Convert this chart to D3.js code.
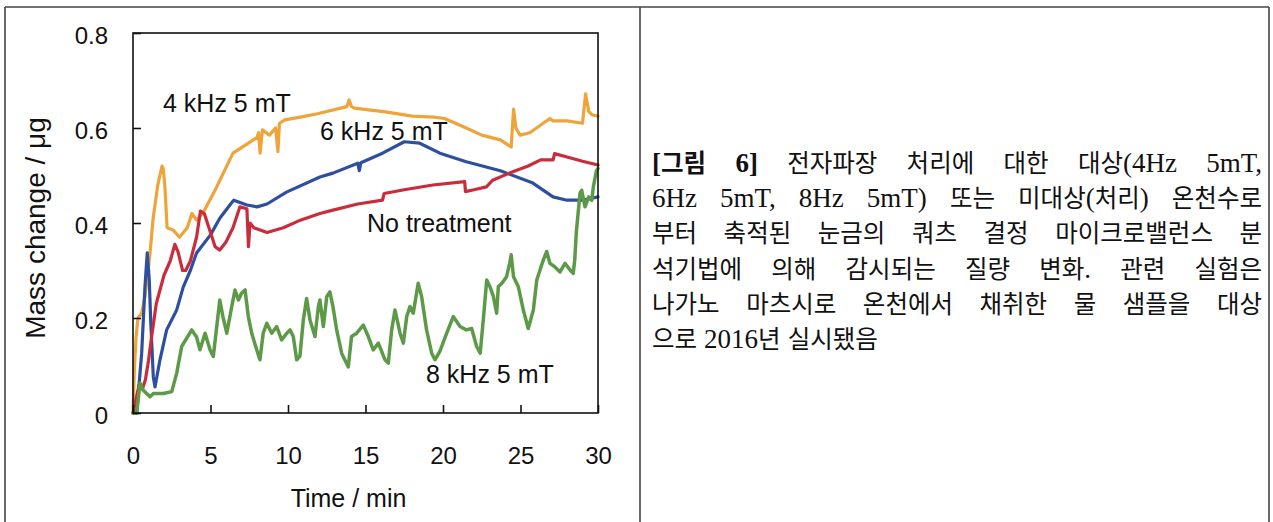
<!DOCTYPE html>
<html><head><meta charset="utf-8">
<script src="https://cdn.jsdelivr.net/npm/d3@7"></script>
<style>html,body{margin:0;padding:0;background:#fff;} svg{display:block;}</style>
</head><body>
<svg id="c" width="1273" height="522"></svg>
<script>
// ---------- data ----------
const xTicks = [0, 5, 10, 15, 20, 25, 30];
const yTicks = [0, 0.2, 0.4, 0.6, 0.8];
const yTickLabels = ["0", "0.2", "0.4", "0.6", "0.8"];
const xTitle = "Time / min";
const yTitle = "Mass change / μg";
const seriesNames = ["4 kHz 5 mT", "6 kHz 5 mT", "No treatment", "8 kHz 5 mT"];

// [time (min), mass change (µg)]
const series4k = [[0,0],[0.1,0.1],[0.2,0.16],[0.32,0.2],[0.56,0.21],[0.77,0.245],[0.97,0.3],[1.1,0.337],[1.3,0.41],[1.6,0.48],[1.87,0.52],[1.95,0.515],[2.06,0.476],[2.2,0.39],[2.6,0.385],[3.0,0.37],[3.5,0.39],[3.8,0.42],[4.1,0.406],[4.5,0.42],[5.4,0.476],[6.45,0.547],[7.3,0.565],[8.0,0.58],[8.1,0.59],[8.2,0.547],[8.35,0.596],[8.8,0.585],[9.2,0.6],[9.35,0.55],[9.45,0.61],[9.8,0.617],[10.8,0.623],[11.9,0.63],[12.9,0.638],[13.8,0.645],[13.94,0.659],[14.1,0.645],[14.3,0.642],[15.2,0.638],[16.3,0.634],[18.0,0.625],[19.4,0.623],[20.1,0.62],[21.5,0.6],[22.5,0.585],[23.7,0.575],[24.4,0.56],[24.55,0.64],[24.7,0.6],[24.97,0.585],[25.6,0.59],[26.9,0.62],[27.1,0.615],[28.0,0.615],[29.0,0.61],[29.2,0.672],[29.4,0.635],[29.6,0.628],[30,0.625]];
const series6k = [[0.24,0],[0.56,0.126],[0.77,0.265],[0.92,0.337],[1.05,0.28],[1.14,0.196],[1.31,0.076],[1.42,0.055],[1.74,0.112],[2.17,0.175],[2.82,0.217],[3.24,0.265],[3.7,0.3],[4.1,0.337],[5.0,0.375],[5.6,0.41],[6.3,0.44],[6.5,0.448],[7.35,0.438],[8.0,0.434],[8.65,0.44],[9.9,0.465],[12.06,0.497],[12.9,0.505],[14.5,0.526],[14.6,0.51],[14.7,0.527],[16.1,0.547],[17.5,0.571],[18.5,0.568],[19.8,0.547],[21.5,0.529],[23.7,0.51],[25.8,0.484],[27.1,0.455],[28,0.448],[29,0.448],[30,0.455]];
const seriesNone = [[0,0],[0.2,0.03],[0.4,0.06],[0.6,0.05],[0.8,0.07],[1.0,0.11],[1.2,0.16],[1.5,0.23],[2.0,0.29],[2.4,0.32],[2.7,0.355],[2.9,0.34],[3.2,0.3],[3.4,0.3],[3.7,0.32],[4.1,0.37],[4.35,0.425],[4.6,0.42],[5.0,0.38],[5.3,0.35],[5.6,0.343],[6.0,0.36],[6.45,0.39],[6.9,0.434],[7.35,0.43],[7.45,0.35],[7.55,0.4],[7.8,0.39],[8.65,0.38],[9.7,0.39],[10.8,0.406],[12.06,0.42],[12.9,0.427],[14.5,0.44],[16.1,0.448],[16.2,0.462],[17.5,0.47],[19.35,0.48],[21.4,0.487],[21.45,0.466],[22.0,0.47],[22.8,0.476],[23.2,0.49],[24.5,0.508],[25.5,0.52],[26.3,0.533],[27.1,0.533],[27.2,0.546],[28,0.539],[29,0.53],[30,0.522]];
const series8k = [[0,0],[0.24,0],[0.45,0.063],[0.66,0.048],[0.88,0.041],[1.1,0.034],[1.31,0.041],[1.96,0.041],[2.5,0.045],[2.82,0.084],[3.14,0.14],[3.79,0.175],[4.1,0.16],[4.32,0.133],[4.65,0.168],[4.97,0.133],[5.18,0.119],[5.6,0.238],[5.8,0.203],[6.05,0.168],[6.37,0.224],[6.58,0.259],[6.8,0.238],[7.0,0.252],[7.23,0.259],[7.44,0.203],[7.66,0.168],[7.98,0.133],[8.19,0.112],[8.4,0.168],[8.63,0.189],[8.95,0.168],[9.27,0.182],[9.59,0.154],[9.92,0.168],[10.13,0.175],[10.34,0.161],[10.56,0.112],[10.77,0.12],[10.99,0.196],[11.2,0.241],[11.42,0.196],[11.74,0.161],[11.96,0.224],[12.06,0.238],[12.28,0.182],[12.5,0.245],[12.7,0.255],[12.9,0.224],[13.14,0.175],[13.46,0.126],[13.89,0.097],[14.1,0.161],[14.43,0.168],[14.86,0.185],[15.18,0.161],[15.5,0.133],[15.83,0.147],[16.26,0.112],[16.47,0.105],[16.69,0.175],[16.9,0.217],[17.23,0.168],[17.44,0.147],[17.66,0.203],[17.87,0.224],[18.08,0.21],[18.4,0.273],[18.62,0.245],[18.94,0.175],[19.27,0.126],[19.48,0.112],[19.8,0.13],[20.24,0.168],[20.66,0.203],[21.1,0.182],[21.5,0.175],[21.85,0.178],[22.17,0.14],[22.4,0.126],[22.6,0.196],[22.82,0.28],[23.03,0.266],[23.25,0.245],[23.46,0.21],[23.57,0.266],[23.8,0.273],[24.1,0.287],[24.3,0.315],[24.4,0.333],[24.55,0.287],[24.86,0.266],[25.18,0.217],[25.5,0.178],[25.83,0.217],[26.05,0.28],[26.47,0.322],[26.69,0.34],[26.9,0.315],[27.2,0.308],[27.55,0.297],[27.87,0.315],[28.2,0.301],[28.4,0.294],[28.5,0.322],[28.6,0.38],[28.84,0.463],[28.95,0.469],[29.16,0.434],[29.4,0.455],[29.6,0.448],[29.7,0.476],[29.9,0.51],[30,0.515]];

const captionLines = [
  "[그림 6] 전자파장 처리에 대한 대상(4Hz 5mT,",
  "6Hz 5mT, 8Hz 5mT) 또는 미대상(처리) 온천수로",
  "부터 축적된 눈금의 쿼츠 결정 마이크로밸런스 분",
  "석기법에 의해 감시되는 질량 변화. 관련 실험은",
  "나가노 마츠시로 온천에서 채취한 물 샘플을 대상",
  "으로 2016년 실시됐음"
];

// ---------- styles ----------
const seriesStyle = [
  {data: series4k, color: "#EFA43A", w: 3.2},
  {data: series6k, color: "#2E4F9F", w: 3.2},
  {data: seriesNone, color: "#C92C3B", w: 3.2},
  {data: series8k, color: "#5C9A48", w: 3.5}
];
const drawOrder = [0, 1, 2, 3];
const labelPos = [[163,112],[320,140],[367,232],[426,383]];

const svg = d3.select("#c");
const font = "'Liberation Sans', Arial, sans-serif";

// table borders
const border = svg.append("g").attr("stroke", "#444").attr("stroke-width", 1.6).attr("fill", "none");
border.append("line").attr("x1", 5).attr("x2", 1269).attr("y1", 7).attr("y2", 7);
border.append("line").attr("x1", 5).attr("x2", 5).attr("y1", 7).attr("y2", 522);
border.append("line").attr("x1", 640).attr("x2", 640).attr("y1", 7).attr("y2", 522);
border.append("line").attr("x1", 1269).attr("x2", 1269).attr("y1", 7).attr("y2", 522);

// scales
const x = d3.scaleLinear().domain([0, 30]).range([133, 598]);
const y = d3.scaleLinear().domain([0, 0.8]).range([413, 33]);

// series
const line = d3.line().x(d => x(d[0])).y(d => y(d[1])).curve(d3.curveLinear);
const plot = svg.append("g");
drawOrder.forEach(i => {
  plot.append("path").datum(seriesStyle[i].data)
    .attr("d", line).attr("fill", "none")
    .attr("stroke", seriesStyle[i].color).attr("stroke-width", seriesStyle[i].w)
    .attr("stroke-linejoin", "round").attr("stroke-linecap", "round");
});

// frame
svg.append("rect").attr("x", x(0)).attr("y", y(0.8))
  .attr("width", x(30) - x(0)).attr("height", y(0) - y(0.8))
  .attr("fill", "none").attr("stroke", "#111").attr("stroke-width", 1.6);

// axes
const xAxis = svg.append("g").attr("transform", `translate(0,${y(0)})`)
  .call(d3.axisBottom(x).tickValues(xTicks).tickFormat(d3.format("d")).tickSizeInner(-8).tickSizeOuter(0).tickPadding(34));
const yAxis = svg.append("g").attr("transform", `translate(${x(0)},0)`)
  .call(d3.axisLeft(y).tickValues(yTicks).tickFormat((d, i) => yTickLabels[i]).tickSizeInner(-8).tickSizeOuter(0).tickPadding(25));
[xAxis, yAxis].forEach(a => {
  a.select(".domain").remove();
  a.selectAll(".tick line").attr("stroke", "#111").attr("stroke-width", 1.6);
  a.selectAll("text").attr("font-family", font).attr("font-size", 24).attr("fill", "#111");
});
yAxis.selectAll("text").attr("dy", "0.42em");

// titles
svg.append("text").attr("x", 348.5).attr("y", 507).attr("text-anchor", "middle")
  .attr("font-family", font).attr("font-size", 25).attr("fill", "#111").text(xTitle);
svg.append("text").attr("transform", "translate(45,228) rotate(-90)").attr("text-anchor", "middle")
  .attr("font-family", font).attr("font-size", 28).attr("fill", "#111").text(yTitle);

// series labels
seriesNames.forEach((n, i) => {
  svg.append("text").attr("x", labelPos[i][0]).attr("y", labelPos[i][1])
    .attr("font-family", font).attr("font-size", 25).attr("fill", "#111").text(n);
});

// caption (justified lines)
const hangulFont = "'Noto Sans CJK KR', sans-serif";
const latinFont = "'Liberation Serif', serif";
const capX0 = 652, capX1 = 1262, capY0 = 172, capDy = 35.2;
const hangulSize = 24.5, latinSize = 27;
const isHangul = ch => /[\uAC00-\uD7A3\u3130-\u318F]/.test(ch);
captionLines.forEach((ln, li) => {
  const words = ln.split(" ");
  const g = svg.append("g");
  const yy = capY0 + li * capDy;
  const nodes = words.map((w, wi) => {
    const t = g.append("text").attr("x", 0).attr("y", yy).attr("fill", "#111")
      .attr("font-weight", (li === 0 && wi < 2) ? "bold" : "normal");
    const runs = [];
    for (const ch of w) {
      const h = isHangul(ch);
      if (runs.length && runs[runs.length - 1].h === h) runs[runs.length - 1].s += ch;
      else runs.push({h, s: ch});
    }
    runs.forEach(r => t.append("tspan")
      .attr("font-family", r.h ? hangulFont : latinFont)
      .attr("font-size", r.h ? hangulSize : latinSize)
      .text(r.s));
    return t;
  });
  const widths = nodes.map(n => n.node().getComputedTextLength());
  const total = d3.sum(widths);
  const last = li === captionLines.length - 1;
  const gap = last ? 7 : (capX1 - capX0 - total) / (words.length - 1);
  let cx = capX0;
  nodes.forEach((n, k) => { n.attr("x", cx); cx += widths[k] + gap; });
});
</script>
</body></html>
